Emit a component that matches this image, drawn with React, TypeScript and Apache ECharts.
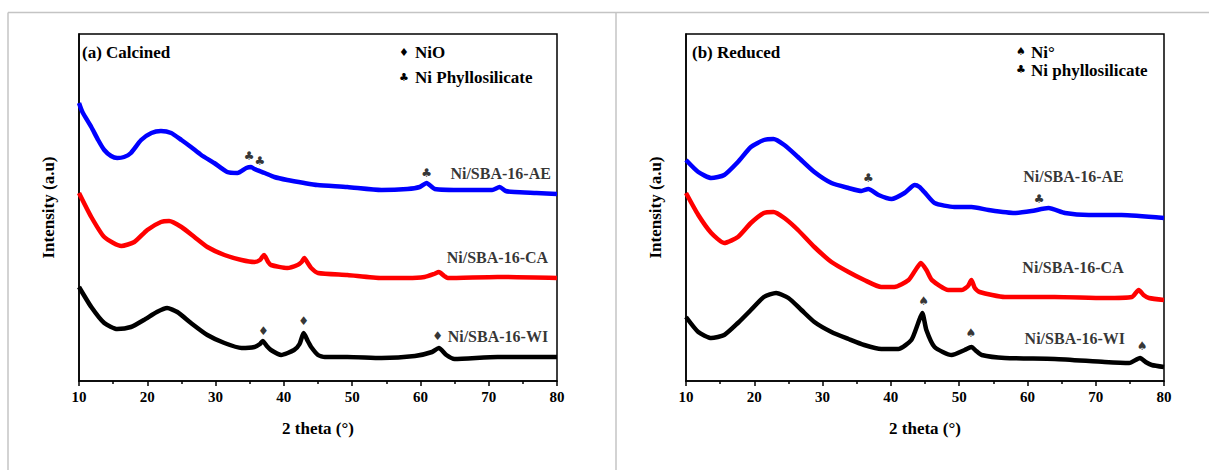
import React, { useEffect, useRef } from "react";
import * as echarts from "echarts";

// x-axis ticks (2 theta, degrees)
const xTicks = [10, 20, 30, 40, 50, 60, 70, 80];

// Panel (a) Calcined — [2theta, intensity (arbitrary units incl. vertical offset)]
const calcinedAE: number[][] = [
  [10, 278], [10.5, 269], [11.8, 254], [12.8, 241], [13.7, 231], [14.7, 225], [15.6, 223], [16.6, 224],
  [17.6, 228], [19.1, 241], [20.6, 248], [22, 250], [23.5, 248], [25, 241], [26.4, 234], [27.9, 226],
  [29.8, 218], [31.7, 209], [33.2, 208], [34.5, 213], [35.2, 214], [35.7, 212], [37.2, 208], [38.6, 204],
  [40.5, 201], [43, 198], [44.9, 196], [49.3, 194], [54.3, 191], [58.1, 192], [59.9, 194], [60.9, 198],
  [62.1, 192], [66.5, 191], [70.5, 191], [71.6, 194], [72.5, 190], [73.8, 189], [77, 188], [80, 187],
];
const calcinedCA: number[][] = [
  [10, 188], [11.8, 164], [13.7, 144], [16.2, 135], [18.1, 139], [20, 151], [22, 159], [23.2, 160],
  [25, 154], [26.9, 144], [28.8, 134], [31.3, 126], [33.8, 121], [35.7, 119], [36.5, 121], [37.1, 126],
  [37.7, 119], [38.1, 116], [40.5, 113], [42, 116], [42.6, 119], [43, 123], [43.5, 118], [44, 113],
  [45, 108], [49.3, 106], [54.3, 103], [58.1, 103], [60.6, 104], [62, 107], [62.7, 109], [63.5, 105],
  [64, 103], [71.3, 104], [80, 103],
];
const calcinedWI: number[][] = [
  [10, 94], [11.8, 74], [13.7, 58], [15.6, 52], [17.6, 54], [19.5, 61], [21.4, 69], [22.9, 73],
  [24.4, 69], [26.4, 58], [28.8, 46], [31.3, 38], [33.8, 33], [35.7, 34], [36.5, 37], [36.9, 40],
  [37.5, 35], [38.1, 31], [39.6, 26], [41.5, 31], [42.3, 37], [42.9, 48], [43.5, 40], [44, 34],
  [45, 26], [46, 24], [49.3, 24], [54.3, 23], [59.2, 25], [61.7, 29], [62.7, 33], [63.8, 26],
  [65, 22], [71.3, 24], [80, 24],
];

// Panel (b) Reduced
const reducedAE: number[][] = [
  [10, 221], [11.8, 209], [13.7, 203], [15.6, 206], [17.6, 219], [19.5, 234], [21.4, 241], [22.8, 242],
  [24.4, 236], [26.4, 224], [28.8, 209], [31.3, 198], [33.8, 193], [35.7, 190], [36.7, 192], [38.2, 186],
  [40.1, 182], [42, 188], [43.5, 196], [44.2, 194], [44.9, 189], [46.4, 178], [49.3, 174], [51.8, 174],
  [54.3, 171], [58.1, 168], [60.6, 170], [63.1, 173], [65.5, 168], [69, 166], [73.8, 166], [80, 163],
];
const reducedCA: number[][] = [
  [10, 188], [11.8, 166], [13.7, 148], [15.6, 138], [17.6, 144], [19.5, 158], [21.4, 168], [22.8, 169],
  [24.4, 163], [26.4, 151], [28.8, 134], [31.3, 119], [33.8, 109], [36.1, 101], [38.6, 94], [40.5, 94],
  [42.6, 101], [43.8, 113], [44.4, 118], [45.2, 111], [46, 101], [48.4, 91], [50.4, 91], [51.3, 95],
  [51.8, 101], [52.3, 93], [53, 89], [56.7, 84], [64, 84], [71.3, 83], [75.3, 84], [76.3, 91],
  [77, 86], [77.8, 83], [80, 81],
];
const reducedWI: number[][] = [
  [10, 64], [11.8, 49], [13.7, 43], [15.6, 46], [17.6, 58], [19.5, 71], [21.4, 84], [23.2, 88],
  [25, 83], [26.9, 71], [28.8, 59], [31.3, 49], [33.8, 42], [36.1, 36], [38.6, 32], [41.1, 32],
  [43, 41], [44, 58], [44.6, 68], [45.2, 51], [46.4, 34], [48.9, 26], [50.8, 31], [51.8, 34],
  [52.5, 30], [53.3, 26], [56.7, 23], [64, 22], [71.3, 19], [74.9, 18], [76.5, 23], [77.3, 19],
  [78.2, 16], [80, 14],
];

// Phase markers: [2theta, height, glyph]
const calcinedMarks: [number, number, string][] = [
  [34.9, 225, "♣"], [36.5, 220, "♣"], [60.9, 208, "♣"],
  [37.0, 50, "♦"], [42.9, 60, "♦"], [62.5, 45, "♦"],
];
const reducedMarks: [number, number, string][] = [
  [36.7, 203, "♣"], [61.7, 182, "♣"],
  [44.8, 80, "♠"], [51.7, 48, "♠"], [76.8, 35, "♠"],
];

// Sample names: [2theta (right end), height, name]
const calcinedNames: [number, number, string][] = [
  [79.1, 208, "Ni/SBA-16-AE"], [78.7, 124, "Ni/SBA-16-CA"], [78.7, 45, "Ni/SBA-16-WI"],
];
const reducedNames: [number, number, string][] = [
  [74.1, 205, "Ni/SBA-16-AE"], [74.1, 114, "Ni/SBA-16-CA"], [74.3, 43, "Ni/SBA-16-WI"],
];

const serif = "'Liberation Serif', 'Times New Roman', serif";

export default function App() {
  const ref = useRef<HTMLDivElement>(null);
  useEffect(() => {
    if (!ref.current) return;
    const chart = echarts.init(ref.current, null, { renderer: "svg" });

    const xAxis = (gi: number) => ({
      type: "value",
      gridIndex: gi,
      min: 10,
      max: 80,
      interval: 10,
      name: "2 theta (°)",
      nameLocation: "middle",
      nameGap: 39,
      nameTextStyle: { fontFamily: serif, fontWeight: "bold", fontSize: 17, color: "#000" },
      axisLine: { show: true, lineStyle: { color: "#000", width: 1.5 } },
      axisTick: { show: true, inside: false, length: 5, lineStyle: { color: "#000", width: 1.5 } },
      minorTick: { show: true, splitNumber: 2, length: 3, lineStyle: { color: "#000", width: 1.5 } },
      splitLine: { show: false },
      axisLabel: {
        fontFamily: serif, fontWeight: "bold", fontSize: 15, color: "#000", margin: 8,
        formatter: (v: number) => (xTicks.includes(v) ? String(v) : ""),
      },
    });
    const yAxis = (gi: number) => ({
      type: "value",
      gridIndex: gi,
      min: 0,
      max: 347,
      name: "Intensity (a.u)",
      nameLocation: "middle",
      nameRotate: 90,
      nameGap: 22,
      nameTextStyle: { fontFamily: serif, fontWeight: "bold", fontSize: 17, color: "#000" },
      axisLine: { show: true, lineStyle: { color: "#000", width: 1.5 } },
      axisTick: { show: false },
      axisLabel: { show: false },
      splitLine: { show: false },
    });
    const line = (data: number[][], color: string, gi: number) => ({
      type: "line",
      xAxisIndex: gi,
      yAxisIndex: gi,
      data,
      showSymbol: false,
      smooth: 0.2,
      lineStyle: { color, width: 4.5 },
      silent: true,
    });
    const marks = (m: [number, number, string][], gi: number) => ({
      type: "scatter",
      xAxisIndex: gi,
      yAxisIndex: gi,
      symbolSize: 0,
      data: m.map((d) => ({ value: [d[0], d[1]], name: d[2] })),
      label: {
        show: true, position: "inside", formatter: "{b}",
        fontSize: 12, color: "#000", fontFamily: "'DejaVu Sans', sans-serif",
      },
    });
    const names = (m: [number, number, string][], gi: number) => ({
      type: "scatter",
      xAxisIndex: gi,
      yAxisIndex: gi,
      symbolSize: 0,
      data: m.map((d) => ({ value: [d[0], d[1]], name: d[2] })),
      label: {
        show: true, position: "left", distance: 0, formatter: "{b}",
        fontFamily: serif, fontWeight: "bold", fontSize: 16, color: "#000",
      },
    });

    const txt = (x: number, y: number, text: string, size = 17, family = serif) => ({
      type: "text",
      x, y,
      style: { text, fontFamily: family, fontWeight: "bold", fontSize: size, fill: "#000", textVerticalAlign: "middle" },
    });
    const sym = (x: number, y: number, text: string) => ({
      type: "text",
      x, y,
      style: { text, fontFamily: "'DejaVu Sans', sans-serif", fontSize: 11, fill: "#000", textAlign: "center", textVerticalAlign: "middle" },
    });

    chart.setOption({
      animation: false,
      backgroundColor: "#fff",
      grid: [
        { left: 79, right: 652, top: 34, bottom: 89, show: true, borderColor: "#000", borderWidth: 1.5, backgroundColor: "transparent" },
        { left: 686, right: 45, top: 34, bottom: 89, show: true, borderColor: "#000", borderWidth: 1.5, backgroundColor: "transparent" },
      ],
      xAxis: [xAxis(0), xAxis(1)],
      yAxis: [yAxis(0), yAxis(1)],
      series: [
        line(calcinedAE, "#0000ff", 0),
        line(calcinedCA, "#ff0000", 0),
        line(calcinedWI, "#000000", 0),
        line(reducedAE, "#0000ff", 1),
        line(reducedCA, "#ff0000", 1),
        line(reducedWI, "#000000", 1),
        marks(calcinedMarks, 0),
        marks(reducedMarks, 1),
        names(calcinedNames, 0),
        names(reducedNames, 1),
      ],
      graphic: [
        { type: "line", shape: { x1: 8, y1: 12.5, x2: 1209, y2: 12.5 }, style: { stroke: "#c4c4c4", lineWidth: 1.5 } },
        { type: "line", shape: { x1: 8, y1: 12.5, x2: 8, y2: 470 }, style: { stroke: "#c4c4c4", lineWidth: 1.5 } },
        { type: "line", shape: { x1: 616, y1: 12.5, x2: 616, y2: 470 }, style: { stroke: "#c4c4c4", lineWidth: 1.5 } },
        txt(82, 52, "(a) Calcined"),
        sym(404, 52, "♦"),
        txt(415, 52, "NiO"),
        sym(404, 77, "♣"),
        txt(415, 77, "Ni Phyllosilicate"),
        txt(692, 52, "(b) Reduced"),
        sym(1021, 51, "♠"),
        txt(1031, 52, "Ni°"),
        sym(1021, 69, "♣"),
        txt(1031, 70, "Ni phyllosilicate"),
      ],
    });
    return () => chart.dispose();
  }, []);
  return <div ref={ref} style={{ position: "fixed", left: 0, top: 0, width: 1209, height: 470 }} />;
}
